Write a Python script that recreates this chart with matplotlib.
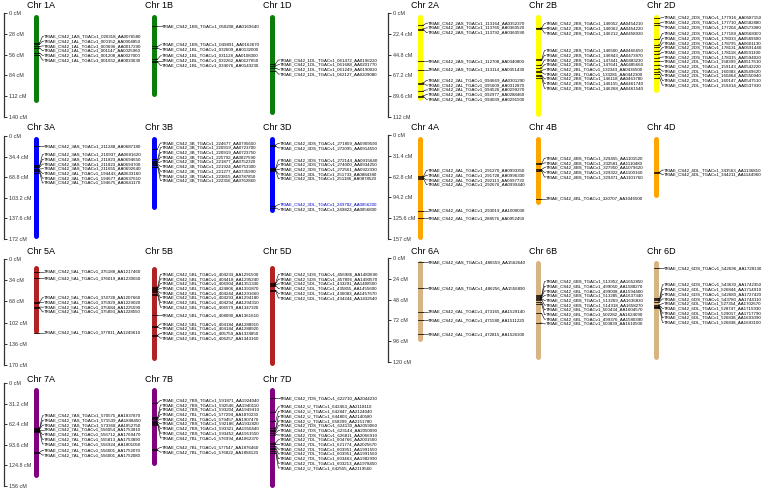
import matplotlib
matplotlib.use("Agg")
import matplotlib.pyplot as plt
import numpy as np

plt.rcParams['font.family'] = ['Liberation Sans', 'DejaVu Sans']

# ---------------- data ----------------
group_labels = ['1', '2', '3', '4', '5', '6', '7']
genome_labels = ['A', 'B', 'D']
group_max_cM = [140, 112, 172, 157, 170, 120, 156]
ruler_ticks = [
    [0, 28, 56, 84, 112, 140],
    [0, 22.4, 44.8, 67.2, 89.6, 112],
    [0, 34.4, 68.8, 103.2, 137.6, 172],
    [0, 31.4, 62.8, 94.2, 125.6, 157],
    [0, 34, 68, 102, 136, 170],
    [0, 24, 48, 72, 96, 120],
    [0, 31.2, 62.4, 93.6, 124.8, 156],
]
group_colors = ['#0a7d0a', '#ffff00', '#0000ff', '#ffa500', '#b22222', '#d8b483', '#800080']
chrom_start = [[2.5, 2.5, 2.5], [2, 2, 2], [1.5, 1.5, 1.5], [3, 3, 3],
               [10, 12, 10], [2.5, 2.5, 2.5], [7.5, 7.5, 7.5]]
chrom_end = [[120, 113, 137], [94, 112, 86], [171, 122, 127], [157, 105, 95],
             [120, 163, 171], [96, 117, 117], [143, 125, 158]]
highlight_labels = ['TRIAE_CS42_3DL_TGACv1_249782_AA0856200']

chr1A_names = ['TRIAE_CS42_1AS_TGACv1_020318_AA0076580', 'TRIAE_CS42_1AL_TGACv1_000152_AA0004850',
               'TRIAE_CS42_1AL_TGACv1_000696_AA0017290', 'TRIAE_CS42_1AL_TGACv1_001147_AA0025960',
               'TRIAE_CS42_1AL_TGACv1_001208_AA0027000', 'TRIAE_CS42_1AL_TGACv1_001652_AA0033630']
chr1A_cM = [40, 42, 45, 47, 54, 57]
chr1B_names = ['TRIAE_CS42_1BS_TGACv1_050208_AA0169640', 'TRIAE_CS42_1BS_TGACv1_049891_AA0162670',
               'TRIAE_CS42_1BL_TGACv1_032609_AA0132000', 'TRIAE_CS42_1BL_TGACv1_031128_AA0108300',
               'TRIAE_CS42_1BL_TGACv1_032262_AA0127650', 'TRIAE_CS42_1BL_TGACv1_034076_AA0143230']
chr1B_cM = [18, 45, 47, 62, 64, 66]
chr1D_names = ['TRIAE_CS42_1DL_TGACv1_061472_AA0196220', 'TRIAE_CS42_1DL_TGACv1_061688_AA0201770',
               'TRIAE_CS42_1DL_TGACv1_061249_AA0190020', 'TRIAE_CS42_1DL_TGACv1_062127_AA0209080']
chr1D_cM = [68, 71, 74, 78]

chr2A_names = ['TRIAE_CS42_2AS_TGACv1_113164_AA0352370', 'TRIAE_CS42_2AS_TGACv1_113760_AA0360520',
               'TRIAE_CS42_2AS_TGACv1_113792_AA0360590', 'TRIAE_CS42_2AS_TGACv1_112708_AA0340800',
               'TRIAE_CS42_2AS_TGACv1_113114_AA0351430', 'TRIAE_CS42_2AL_TGACv1_094669_AA0301290',
               'TRIAE_CS42_2AL_TGACv1_095609_AA0312870', 'TRIAE_CS42_2AL_TGACv1_094526_AA0299270',
               'TRIAE_CS42_2AL_TGACv1_092977_AA0288460', 'TRIAE_CS42_2AL_TGACv1_094039_AA0291500']
chr2A_cM = [13, 17, 18, 52, 61, 75, 76, 84, 89, 90]
chr2B_names = ['TRIAE_CS42_2BS_TGACv1_146052_AA0454210', 'TRIAE_CS42_2BS_TGACv1_146062_AA0454220',
               'TRIAE_CS42_2BS_TGACv1_146212_AA0458920', 'TRIAE_CS42_2BS_TGACv1_146500_AA0466650',
               'TRIAE_CS42_2BS_TGACv1_146843_AA0473870', 'TRIAE_CS42_2BS_TGACv1_147441_AA0483230',
               'TRIAE_CS42_2BS_TGACv1_147641_AA0485660', 'TRIAE_CS42_2BL_TGACv1_132343_AA0436500',
               'TRIAE_CS42_2BL_TGACv1_133281_AA0442300', 'TRIAE_CS42_2BS_TGACv1_146118_AA0463780',
               'TRIAE_CS42_2BS_TGACv1_146155_AA0461740', 'TRIAE_CS42_2BS_TGACv1_146268_AA0461540']
chr2B_cM = [16, 16.5, 17, 50, 51, 56, 59, 62, 64, 67, 68, 70]
chr2D_names = ['TRIAE_CS42_2DS_TGACv1_177916_AA0587150', 'TRIAE_CS42_2DS_TGACv1_177710_AA0582880',
               'TRIAE_CS42_2DS_TGACv1_177204_AA0573980', 'TRIAE_CS42_2DS_TGACv1_177189_AA0568300',
               'TRIAE_CS42_2DS_TGACv1_178033_AA0589680', 'TRIAE_CS42_2DS_TGACv1_178795_AA0601130',
               'TRIAE_CS42_2DS_TGACv1_178131_AA0591440', 'TRIAE_CS42_2DS_TGACv1_178118_AA0591100',
               'TRIAE_CS42_2DS_TGACv1_178315_AA0594020', 'TRIAE_CS42_2DL_TGACv1_158399_AA0517610',
               'TRIAE_CS42_2DL_TGACv1_159143_AA0542220', 'TRIAE_CS42_2DL_TGACv1_160383_AA0549620',
               'TRIAE_CS42_2DL_TGACv1_160464_AA0550940', 'TRIAE_CS42_2DL_TGACv1_160147_AA0547510',
               'TRIAE_CS42_2DL_TGACv1_159414_AA0537930']
chr2D_cM = [5.7, 11, 13, 28, 34, 37, 41, 44, 48, 52, 56, 60, 63, 66, 70]

chr3A_names = ['TRIAE_CS42_3AS_TGACv1_211248_AA0687180', 'TRIAE_CS42_3AS_TGACv1_210937_AA0681620',
               'TRIAE_CS42_3AS_TGACv1_211823_AA0694650', 'TRIAE_CS42_3AS_TGACv1_211823_AA0694700',
               'TRIAE_CS42_3AS_TGACv1_211655_AA0692640', 'TRIAE_CS42_3AL_TGACv1_194443_AA0633160',
               'TRIAE_CS42_3AL_TGACv1_194677_AA0637610', 'TRIAE_CS42_3AL_TGACv1_194675_AA0641170']
chr3A_cM = [17, 49, 50, 52, 55, 57, 59, 61]
chr3B_names = ['TRIAE_CS42_3B_TGACv1_224677_AA0795650', 'TRIAE_CS42_3B_TGACv1_220919_AA0723700',
               'TRIAE_CS42_3B_TGACv1_220919_AA0723750', 'TRIAE_CS42_3B_TGACv1_225792_AA0827590',
               'TRIAE_CS42_3B_TGACv1_221877_AA0752320', 'TRIAE_CS42_3B_TGACv1_221924_AA0753300',
               'TRIAE_CS42_3B_TGACv1_221277_AA0735990', 'TRIAE_CS42_3B_TGACv1_223815_AA0787850',
               'TRIAE_CS42_3B_TGACv1_222356_AA0762860']
chr3B_cM = [21, 39, 41, 43, 45, 47, 49, 51, 52]
chr3D_names = ['TRIAE_CS42_3DS_TGACv1_271859_AA0909590', 'TRIAE_CS42_3DS_TGACv1_272095_AA0914550',
               'TRIAE_CS42_3DS_TGACv1_272144_AA0915640', 'TRIAE_CS42_3DS_TGACv1_274000_AA0934250',
               'TRIAE_CS42_3DS_TGACv1_272561_AA0922330', 'TRIAE_CS42_3DL_TGACv1_251733_AA0884380',
               'TRIAE_CS42_3DL_TGACv1_251186_AA0878520', 'TRIAE_CS42_3DL_TGACv1_249782_AA0856200',
               'TRIAE_CS42_3DL_TGACv1_249823_AA0856800']
chr3D_cM = [15, 17, 53.5, 54.5, 55.5, 57, 58, 117, 120]

chr4A_names = ['TRIAE_CS42_4AL_TGACv1_291270_AA0993350', 'TRIAE_CS42_4AL_TGACv1_291728_AA0996300',
               'TRIAE_CS42_4AL_TGACv1_292113_AA0997730', 'TRIAE_CS42_4AL_TGACv1_292676_AA0999440',
               'TRIAE_CS42_4AL_TGACv1_293019_AA1000030', 'TRIAE_CS42_4AL_TGACv1_288576_AA0952450']
chr4A_cM = [62, 63.5, 65, 66.5, 114, 126]
chr4B_names = ['TRIAE_CS42_4BS_TGACv1_329455_AA1101520', 'TRIAE_CS42_4BS_TGACv1_332581_AA1110480',
               'TRIAE_CS42_4BS_TGACv1_327950_AA1079620', 'TRIAE_CS42_4BS_TGACv1_329322_AA1100160',
               'TRIAE_CS42_4BS_TGACv1_329471_AA1101760', 'TRIAE_CS42_4BL_TGACv1_320707_AA1046500']
chr4B_cM = [43, 44, 52, 53, 54, 96]
chr4D_names = ['TRIAE_CS42_4DL_TGACv1_343563_AA1136810', 'TRIAE_CS42_4DL_TGACv1_344211_AA1144960']
chr4D_cM = [56, 57]

chr5A_names = ['TRIAE_CS42_5AL_TGACv1_375188_AA1217460', 'TRIAE_CS42_5AL_TGACv1_376019_AA1230650',
               'TRIAE_CS42_5AL_TGACv1_374728_AA1207660', 'TRIAE_CS42_5AL_TGACv1_375929_AA1229020',
               'TRIAE_CS42_5AL_TGACv1_375684_AA1225590', 'TRIAE_CS42_5AL_TGACv1_375893_AA1228550',
               'TRIAE_CS42_5AL_TGACv1_377811_AA1249610']
chr5A_cM = [20.5, 31, 69, 70, 77, 78, 118]
chr5B_names = ['TRIAE_CS42_5BL_TGACv1_404233_AA1291500', 'TRIAE_CS42_5BL_TGACv1_404418_AA1295240',
               'TRIAE_CS42_5BL_TGACv1_406904_AA1351330', 'TRIAE_CS42_5BL_TGACv1_424806_AA1391870',
               'TRIAE_CS42_5BL_TGACv1_404244_AA1291660', 'TRIAE_CS42_5BL_TGACv1_404293_AA1294180',
               'TRIAE_CS42_5BL_TGACv1_404294_AA1294310', 'TRIAE_CS42_5BL_TGACv1_406579_AA1347320',
               'TRIAE_CS42_5BL_TGACv1_408090_AA1361610', 'TRIAE_CS42_5BL_TGACv1_404184_AA1288910',
               'TRIAE_CS42_5BL_TGACv1_404184_AA1288920', 'TRIAE_CS42_5BL_TGACv1_405759_AA1334850',
               'TRIAE_CS42_5BL_TGACv1_406257_AA1343160']
chr5B_cM = [45, 46.5, 48, 49.5, 51, 53, 55.5, 58, 90.5, 108, 109, 122, 123]
chr5D_names = ['TRIAE_CS42_5DS_TGACv1_456986_AA1480690', 'TRIAE_CS42_5DS_TGACv1_457896_AA1490570',
               'TRIAE_CS42_5DL_TGACv1_433291_AA1408500', 'TRIAE_CS42_5DL_TGACv1_435855_AA1455600',
               'TRIAE_CS42_5DL_TGACv1_436083_AA1457670', 'TRIAE_CS42_5DL_TGACv1_434244_AA1432540']
chr5D_cM = [38, 39.5, 41, 42.5, 50, 51]

chr6A_names = ['TRIAE_CS42_6AS_TGACv1_486559_AA1562640', 'TRIAE_CS42_6AS_TGACv1_486256_AA1556890',
               'TRIAE_CS42_6AL_TGACv1_473165_AA1529140', 'TRIAE_CS42_6AL_TGACv1_471580_AA1511220',
               'TRIAE_CS42_6AL_TGACv1_472815_AA1526300']
chr6A_cM = [5, 35, 62, 71.5, 88]
chr6B_names = ['TRIAE_CS42_6BS_TGACv1_513952_AA1652850', 'TRIAE_CS42_6BL_TGACv1_499050_AA1588270',
               'TRIAE_CS42_6BL_TGACv1_499008_AA1594400', 'TRIAE_CS42_6BS_TGACv1_513285_AA1637340',
               'TRIAE_CS42_6BS_TGACv1_513269_AA1636830', 'TRIAE_CS42_6BS_TGACv1_514318_AA1658270',
               'TRIAE_CS42_6BL_TGACv1_500434_AA1604570', 'TRIAE_CS42_6BL_TGACv1_502282_AA1624090',
               'TRIAE_CS42_6BL_TGACv1_499376_AA1580390', 'TRIAE_CS42_6BL_TGACv1_500839_AA1610500']
chr6B_cM = [43, 44, 45, 46, 47, 48, 51, 53, 64, 75]
chr6D_names = ['TRIAE_CS42_6DS_TGACv1_542696_AA1728130', 'TRIAE_CS42_6DS_TGACv1_543630_AA1742350',
               'TRIAE_CS42_6DL_TGACv1_526844_AA1714910', 'TRIAE_CS42_6DS_TGACv1_542680_AA1727420',
               'TRIAE_CS42_6DS_TGACv1_543780_AA1744110', 'TRIAE_CS42_6DL_TGACv1_527354_AA1702670',
               'TRIAE_CS42_6DL_TGACv1_528747_AA1715930', 'TRIAE_CS42_6DL_TGACv1_529017_AA1717790',
               'TRIAE_CS42_6DL_TGACv1_526838_AA1693090', 'TRIAE_CS42_6DL_TGACv1_526838_AA1693100']
chr6D_cM = [11.5, 46.6, 47.8, 49, 50.4, 54, 55, 56, 57, 58]

chr7A_names = ['TRIAE_CS42_7AS_TGACv1_570575_AA1837870', 'TRIAE_CS42_7AS_TGACv1_571539_AA1848450',
               'TRIAE_CS42_7AS_TGACv1_573368_AA1852750', 'TRIAE_CS42_7AL_TGACv1_556054_AA1753810',
               'TRIAE_CS42_7AL_TGACv1_556712_AA1769470', 'TRIAE_CS42_7AL_TGACv1_555813_AA1753890',
               'TRIAE_CS42_7AL_TGACv1_556924_AA1801050', 'TRIAE_CS42_7AL_TGACv1_556001_AA1752070',
               'TRIAE_CS42_7AL_TGACv1_556001_AA1752080']
chr7A_cM = [68, 69, 70, 71, 72, 73, 74, 105, 106]
chr7B_names = ['TRIAE_CS42_7BS_TGACv1_591871_AA1924040', 'TRIAE_CS42_7BS_TGACv1_592546_AA1940110',
               'TRIAE_CS42_7BS_TGACv1_593204_AA1949410', 'TRIAE_CS42_7BL_TGACv1_577294_AA1870230',
               'TRIAE_CS42_7BL_TGACv1_579457_AA1907470', 'TRIAE_CS42_7BS_TGACv1_592186_AA1932820',
               'TRIAE_CS42_7BS_TGACv1_593321_AA1950440', 'TRIAE_CS42_7BS_TGACv1_593452_AA1951550',
               'TRIAE_CS42_7BL_TGACv1_576994_AA1862370', 'TRIAE_CS42_7BL_TGACv1_577547_AA1876460',
               'TRIAE_CS42_7BL_TGACv1_576822_AA1858120']
chr7B_cM = [30, 52, 53, 55, 57, 59, 61, 62, 63, 100, 102]
chr7D_names = ['TRIAE_CS42_7DS_TGACv1_622710_AA2044230', 'TRIAE_CS42_U_TGACv1_642463_AA2118110',
               'TRIAE_CS42_U_TGACv1_642847_AA2124040', 'TRIAE_CS42_U_TGACv1_644803_AA2140580',
               'TRIAE_CS42_U_TGACv1_658209_AA2151780', 'TRIAE_CS42_7DS_TGACv1_624130_AA2059060',
               'TRIAE_CS42_7DS_TGACv1_623144_AA2050090', 'TRIAE_CS42_7DS_TGACv1_626811_AA2066910',
               'TRIAE_CS42_7DL_TGACv1_604766_AA2001560', 'TRIAE_CS42_7DL_TGACv1_621774_AA2025670',
               'TRIAE_CS42_7DL_TGACv1_603951_AA1991550', 'TRIAE_CS42_7DL_TGACv1_603951_AA1991560',
               'TRIAE_CS42_7DL_TGACv1_603463_AA1982990', 'TRIAE_CS42_7DL_TGACv1_603213_AA1978450',
               'TRIAE_CS42_U_TGACv1_642555_AA2119560']
chr7D_cM = [22.7, 43.8, 58, 68, 70.5, 73, 75.5, 78, 90.6, 93, 95.6, 98, 100.7, 103, 105.7]

marker_table = {
    '1A': (chr1A_names, chr1A_cM), '1B': (chr1B_names, chr1B_cM), '1D': (chr1D_names, chr1D_cM),
    '2A': (chr2A_names, chr2A_cM), '2B': (chr2B_names, chr2B_cM), '2D': (chr2D_names, chr2D_cM),
    '3A': (chr3A_names, chr3A_cM), '3B': (chr3B_names, chr3B_cM), '3D': (chr3D_names, chr3D_cM),
    '4A': (chr4A_names, chr4A_cM), '4B': (chr4B_names, chr4B_cM), '4D': (chr4D_names, chr4D_cM),
    '5A': (chr5A_names, chr5A_cM), '5B': (chr5B_names, chr5B_cM), '5D': (chr5D_names, chr5D_cM),
    '6A': (chr6A_names, chr6A_cM), '6B': (chr6B_names, chr6B_cM), '6D': (chr6D_names, chr6D_cM),
    '7A': (chr7A_names, chr7A_cM), '7B': (chr7B_names, chr7B_cM), '7D': (chr7D_names, chr7D_cM),
}

# ---------------- layout (pixels) ----------------
W, H = 778, 495
ruler_x = [4, 388, 4, 388, 4, 388, 4]
top_px = [13, 13, 136, 135, 259, 258, 383]
bot_px = [117, 117, 239, 239, 365, 362, 486]
title_px = [6, 6, 128, 128, 251, 251, 379]
bar_dx = {'L': [32, 150, 268], 'R': [40, 161, 280]}
bar_w_px = 5.0
label_gap_px = 8
label_step_px = 4.7
LABEL_FS = 3.15
TICK_FS = 3.9


def spread(targets, d):
    clusters = [[t] for t in targets]
    changed = True
    while changed:
        changed = False
        new = []
        for c in clusters:
            if new:
                p = new[-1]
                p_end = np.mean(p) + (len(p) - 1) * d / 2
                c_start = np.mean(c) - (len(c) - 1) * d / 2
                if c_start < p_end + d - 1e-9:
                    new[-1] = p + c
                    changed = True
                    continue
            new.append(c)
        clusters = new
    out = []
    for c in clusters:
        s = np.mean(c) - (len(c) - 1) * d / 2
        out += [s + i * d for i in range(len(c))]
    return out


fig = plt.figure(figsize=(W / 100, H / 100), dpi=100)

for g, grp in enumerate(group_labels):
    side = 'L' if ruler_x[g] < W / 2 else 'R'
    top, bot = top_px[g], bot_px[g]
    gmax = group_max_cM[g]
    ax = fig.add_axes([ruler_x[g] / W, 1 - bot / H, 385 / W, (bot - top) / H])
    ax.set_xlim(0, 385)
    ax.set_ylim(gmax, 0)
    ax.patch.set_visible(False)
    scale = (bot - top) / gmax  # px per cM
    for s in ['top', 'bottom', 'left']:
        ax.spines[s].set_visible(False)
    ax.spines['right'].set_position(('axes', 0))
    ax.spines['right'].set_color('#333333')
    ax.spines['right'].set_linewidth(0.9)
    ax.yaxis.tick_right()
    ax.set_yticks(ruler_ticks[g])
    ax.set_yticklabels(['%g cM' % t for t in ruler_ticks[g]])
    ax.tick_params(axis='y', direction='out', length=2.2, width=0.7, pad=1.2,
                   labelsize=TICK_FS, colors='#333333')
    ax.xaxis.set_visible(False)

    hw = bar_w_px / 2
    for k, gen in enumerate(genome_labels):
        key = grp + gen
        names, cms = marker_table[key]
        bx = bar_dx[side][k]
        st, en = chrom_start[g][k], chrom_end[g][k]
        ax.plot([bx, bx], [st + hw / scale, en - hw / scale], color=group_colors[g],
                lw=bar_w_px * 0.72, solid_capstyle='round', clip_on=False, zorder=2)
        ax.text(bx - 9, (title_px[g] - top) / scale, 'Chr ' + key, fontsize=6.5,
                ha='left', va='center', clip_on=False)
        order = np.argsort(cms, kind='stable')
        srt = [cms[i] for i in order]
        lab_y = spread(srt, label_step_px / scale)
        lx = bx + label_gap_px
        for i, ly in zip(order, lab_y):
            m = cms[i]
            ax.plot([bx - hw, bx + hw], [m, m], color='black', lw=0.55, clip_on=False, zorder=3)
            ax.plot([bx + hw, bx + hw + 1.2, lx - 1.6, lx - 0.4], [m, m, ly, ly],
                    color='black', lw=0.4, clip_on=False, zorder=3)
            col = '#0000cc' if names[i] in highlight_labels else 'black'
            ax.text(lx, ly, names[i], fontsize=LABEL_FS, ha='left', va='center',
                    color=col, clip_on=False)

fig.savefig('out.png', dpi=100)
